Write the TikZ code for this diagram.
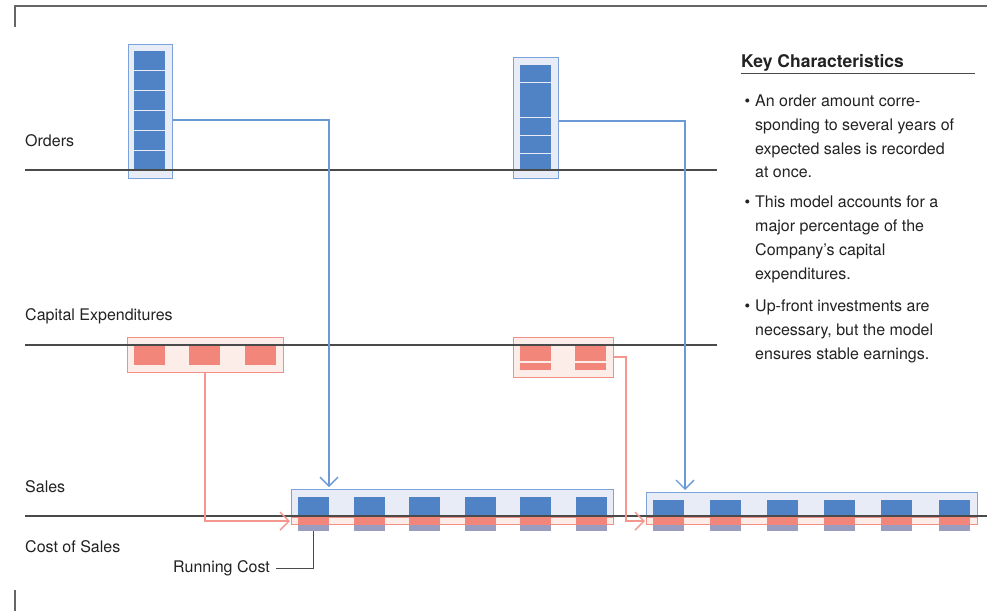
\documentclass[tikz,border=0pt]{standalone}
\usepackage{fontspec}
\setmainfont{TeX Gyre Heros}
\usetikzlibrary{arrows.meta,positioning}
\definecolor{bizBlue}{HTML}{4F83C6}
\definecolor{bizBlueSoft}{HTML}{E8ECF7}
\definecolor{bizBlueLine}{HTML}{7DA2DA}
\definecolor{bizWireBlue}{HTML}{6B99D6}
\definecolor{bizRed}{HTML}{F2867A}
\definecolor{bizRedSoft}{HTML}{FDEDE9}
\definecolor{bizRedLine}{HTML}{F29088}
\definecolor{bizWireRed}{HTML}{F4978F}
\definecolor{bizMauve}{HTML}{9B9DC0}
\definecolor{bizAxis}{HTML}{4A4A4A}
\definecolor{bizInk}{HTML}{222222}

\begin{document}
\begin{tikzpicture}[x=1pt,y=-1pt,>={Straight Barb[length=9pt,width=18pt]},line join=miter]
\path[fill=white] (0,0) rectangle (987,611);
\useasboundingbox (0,0) rectangle (987,611);
\tikzset{axis/.style={draw=bizAxis,line width=1.1pt},frame/.style={draw=black!60,line width=1.4pt},bluebox/.style={draw=bizBlueLine,fill=bizBlueSoft,line width=1.3pt,inner sep=0pt,anchor=north west},redbox/.style={draw=bizRedLine,fill=bizRedSoft,line width=1.3pt,inner sep=0pt,anchor=north west},bluewire/.style={draw=bizWireBlue,line width=1.3pt},redwire/.style={draw=bizWireRed,line width=1.4pt},rowlabel/.style={anchor=west,text=bizInk,inner sep=0pt,font=\fontsize{16}{19}\selectfont},keytext/.style={anchor=north west,align=left,inner sep=0pt,text=bizInk,font=\fontsize{16}{23.7}\selectfont}}
% frame corners
\draw[frame] (15,27) -- (15,6) -- (987,6);
\draw[frame] (15,590) -- (15,611);
% boxes
\node[bluebox,minimum width=44pt,minimum height=134pt] (ord1) at (128,44) {};
\node[bluebox,minimum width=45pt,minimum height=121pt] (ord2) at (513,57) {};
\node[redbox,minimum width=156pt,minimum height=35pt] (cap1) at (127,337) {};
\node[redbox,minimum width=100pt,minimum height=40pt] (cap2) at (513,337) {};
\node[bluebox,minimum width=322pt,minimum height=27pt] (sal1) at (291,489) {};
\node[bluebox,minimum width=331pt,minimum height=24pt] (sal2) at (646,492) {};
\node[redbox,minimum width=322pt,minimum height=7pt] (cos1) at (291,517) {};
\node[redbox,minimum width=331pt,minimum height=7pt] (cos2) at (646,517) {};
\foreach \y in {50,70,90,110,130,150} \fill[bizBlue] (134,\y+0.5) rectangle +(31,19);
\foreach \a/\b in {65/82,83/117,118/135,136/153,154/170} \fill[bizBlue] (520,\a) rectangle (551,\b);
\foreach \x in {134,189,245} \fill[bizRed] (\x,345) rectangle +(31,20);
\foreach \x in {520,575} {\fill[bizRed] (\x,345) rectangle +(31,16); \fill[bizRed] (\x,362.5) rectangle +(31,7);}
\foreach \i in {0,...,5} {\pgfmathsetmacro\x{298+55.6*\i} \fill[bizBlue] (\x,497) rectangle +(31,18); \fill[bizRed] (\x,517) rectangle +(31,8); \fill[bizMauve] (\x,525) rectangle +(31,6);}
\foreach \i in {0,...,5} {\pgfmathsetmacro\x{653+57.1*\i} \fill[bizBlue] (\x,500) rectangle +(31,15); \fill[bizRed] (\x,517) rectangle +(31,8); \fill[bizMauve] (\x,525) rectangle +(31,6);}
% time lines
\draw[axis] (25,170) -- (717,170);
\draw[axis] (25,345) -- (717,345);
\draw[axis] (25,516) -- (987,516);
\node[rowlabel] (lbOrd) at (25,141) {Orders};
\node[rowlabel] (lbCap) at (25,316) {Capital Expenditures};
\node[rowlabel] (lbSal) at (25,487) {Sales};
\node[rowlabel] (lbCos) at (25,547) {Cost of Sales};
% flows
\draw[bluewire,->,shorten >=2pt] (ord1.east |- 0,120) -| (sal1.north west -| 329,0);
\draw[bluewire,->,shorten >=2pt] (ord2.east |- 0,121) -| (sal2.north west -| 685,0);
\draw[redwire,->,shorten >=1pt] (cap1.south -| 205,0) |- (cos1.west);
\draw[redwire,->,shorten >=1pt] (cap2.east |- 0,357) -- ++(11.5,0) |- (cos2.west);
\node[rowlabel] (run) at (173,568.5) {Running Cost};
\coordinate (runTop) at (313.5,531);
\draw[axis,line width=1pt] ([xshift=6pt]run.east) -| (runTop);
% key characteristics
\node[anchor=base west,inner sep=0pt,text=bizInk,font=\fontsize{17.5}{20}\selectfont\bfseries] (keyTitle) at (741,67) {Key Characteristics};
\draw[axis,line width=1pt] ([yshift=-6pt]keyTitle.base west) -- +(234,0);
\node[keytext] (key1) at (755,95) {\llap{\textbullet\hspace{5pt}}An order amount corre-\\sponding to several years of\\expected sales is recorded\\at once.};
\node[keytext] (key2) at (755,196) {\llap{\textbullet\hspace{5pt}}This model accounts for a\\major percentage of the\\Company’s capital\\expenditures.};
\node[keytext] (key3) at (755,300) {\llap{\textbullet\hspace{5pt}}Up-front investments are\\necessary, but the model\\ensures stable earnings.};
\end{tikzpicture}
\end{document}
